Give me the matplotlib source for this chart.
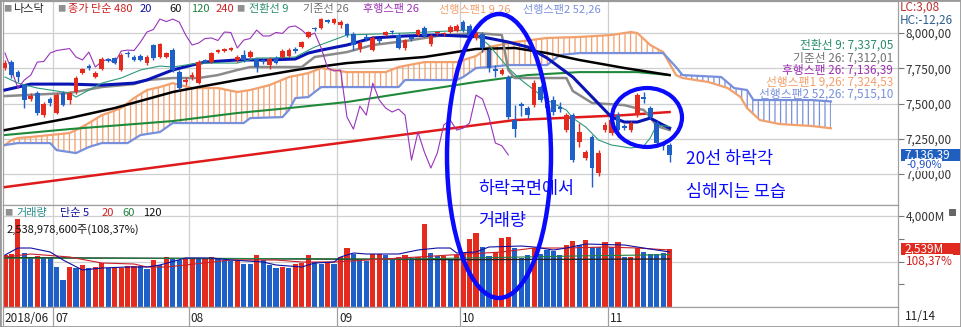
import numpy as np
import matplotlib.pyplot as plt
from matplotlib.patches import Ellipse, Polygon, Rectangle
from matplotlib.ticker import FuncFormatter

plt.rcParams['font.family'] = ['Noto Sans CJK KR', 'DejaVu Sans']
plt.rcParams['hatch.linewidth'] = 0.9

# daily candles, index 0 = first visible day (2018/06), last = 11/14
opens = [7752, 7794, 7723, 7631, 7532, 7575, 7418, 7532, 7433, 7575,
         7525, 7582, 7716, 7766, 7688, 7745, 7812, 7823, 7738, 7855,
         7830, 7837, 7787, 7915, 7830, 7830, 7879, 7723, 7653, 7688,
         7645, 7805, 7794, 7869, 7876, 7883, 7809, 7844, 7830, 7816,
         7805, 7773, 7823, 7830, 7837, 7883, 7901, 7972, 8032, 8035,
         8088, 8071, 8057, 8064, 7993, 7887, 7968, 7879, 7954, 7986,
         8011, 7986, 7894, 7968, 7986, 8035, 7922, 7997, 7990, 8007,
         8014, 8078, 8050, 7965, 7993, 7879, 7745, 7709, 7688, 7383,
         7497, 7468, 7489, 7617, 7539, 7525, 7475, 7312, 7418, 7227,
         7114, 7263, 7007, 7312, 7291, 7418, 7341, 7312, 7418, 7546,
         7468, 7362, 7220, 7206]
closes = [7787, 7702, 7688, 7525, 7553, 7433, 7497, 7504, 7560, 7489,
          7575, 7681, 7745, 7752, 7716, 7816, 7805, 7787, 7844, 7848,
          7809, 7809, 7830, 7823, 7922, 7858, 7738, 7610, 7667, 7702,
          7794, 7798, 7858, 7876, 7883, 7890, 7830, 7809, 7865, 7759,
          7798, 7816, 7787, 7872, 7879, 7876, 7936, 8007, 8025, 8099,
          8081, 8099, 8078, 7986, 7915, 7929, 7961, 7965, 7947, 8007,
          8004, 7894, 7950, 7961, 8021, 7979, 7979, 8004, 7997, 8043,
          8050, 8021, 7979, 8000, 7894, 7752, 7731, 7738, 7404, 7319,
          7482, 7418, 7645, 7525, 7468, 7440, 7461, 7418, 7099, 7298,
          7156, 7043, 7149, 7348, 7383, 7312, 7326, 7362, 7560, 7532,
          7404, 7220, 7201, 7136.39]
highs = [7809, 7809, 7738, 7638, 7575, 7589, 7511, 7546, 7575, 7589,
         7589, 7695, 7752, 7780, 7731, 7830, 7823, 7830, 7858, 7872,
         7844, 7851, 7844, 7922, 7929, 7865, 7894, 7738, 7688, 7723,
         7809, 7816, 7865, 7887, 7894, 7901, 7844, 7879, 7879, 7823,
         7816, 7830, 7837, 7887, 7894, 7901, 7943, 8014, 8043, 8106,
         8099, 8106, 8092, 8071, 8007, 7943, 7993, 7979, 7965, 8014,
         8021, 8000, 7958, 7979, 8028, 8050, 7993, 8014, 8007, 8057,
         8064, 8092, 8064, 8014, 8007, 7894, 7773, 7752, 7702, 7489,
         7511, 7482, 7667, 7631, 7553, 7553, 7511, 7433, 7433, 7362,
         7170, 7277, 7170, 7369, 7397, 7440, 7355, 7376, 7575, 7582,
         7482, 7376, 7234, 7220]
lows = [7738, 7681, 7653, 7468, 7518, 7418, 7404, 7482, 7426, 7482,
        7497, 7568, 7709, 7738, 7681, 7738, 7794, 7780, 7731, 7830,
        7801, 7801, 7773, 7809, 7823, 7823, 7723, 7596, 7631, 7667,
        7638, 7787, 7787, 7858, 7865, 7872, 7794, 7794, 7823, 7723,
        7780, 7745, 7780, 7823, 7830, 7858, 7894, 7965, 8014, 8028,
        8071, 8064, 8035, 7972, 7879, 7865, 7943, 7872, 7929, 7979,
        7993, 7887, 7879, 7943, 7979, 7972, 7908, 7986, 7979, 8000,
        8007, 8007, 7965, 7950, 7865, 7723, 7688, 7702, 7390, 7263,
        7411, 7397, 7475, 7511, 7440, 7418, 7440, 7298, 7085, 7192,
        7099, 6908, 6986, 7298, 7277, 7263, 7312, 7298, 7404, 7504,
        7390, 7206, 7170, 7085]

# volume in millions of shares, R = red bar, B = blue bar
volumes = [2286, 2316, 3868, 2359, 2139, 2256, 2183, 2183, 1744, 1187,
           1773, 1729, 1846, 1729, 1744, 1919, 1729, 1729, 1729, 1817,
           1800, 1800, 1670, 2066, 1846, 2212, 2139, 2066, 2139, 2168,
           2095, 2110, 2212, 2168, 2066, 2022, 2022, 1890, 1890, 2286,
           2066, 1846, 1729, 1773, 1700, 1890, 1919, 2286, 1963, 1890,
           1993, 1890, 2212, 2579, 2316, 2110, 2022, 2316, 2316, 2286,
           2066, 2212, 2286, 2168, 2212, 3648, 2359, 2256, 2256, 2066,
           2286, 2359, 2989, 3238, 2652, 2256, 2400, 3047, 3062, 2579,
           2139, 2300, 2579, 2316, 2506, 2462, 2286, 2725, 2901, 2725,
           2945, 2652, 2652, 2843, 2652, 2843, 2212, 2212, 2608, 2433,
           2316, 2316, 2359, 2539]
vol_colors = ("RRRBBRBBBB" "RBRBRRBRRR" "RBBRBRBBRR" "BRRBBBRBBR" "BBBRBRRRBB"
              "RBRRBBBRRB" "BRRBRRBBRB" "RRRRBBRRRB" "BBRBBBBRRB" "RBBRBRBRRB" "BBBR")

# moving averages / ichimoku lines (day index, value)
ma20_x = [0, 2, 4, 10, 15, 20, 22, 26, 29, 31, 36, 41, 45, 47, 49, 53, 57, 62, 67, 74,
          78, 81, 84, 88, 91, 94, 96, 98, 100, 102, 103]
ma20_y = [7596, 7617, 7638, 7638, 7631, 7645, 7667, 7738, 7773, 7794, 7809, 7809, 7816, 7858,
          7879, 7915, 7965, 7979, 7986, 7972, 7936, 7901, 7823, 7688, 7546, 7404, 7369, 7369,
          7397, 7348, 7326]
ma60_x = [0, 10, 17, 26, 30, 36, 46, 53, 65, 73, 79, 84, 89, 96, 103]
ma60_y = [7312, 7397, 7468, 7582, 7617, 7667, 7745, 7787, 7830, 7887, 7894, 7858, 7809, 7752, 7702]
ma120_x = [0, 10, 26, 36, 44, 53, 62, 73, 81, 89, 98, 103]
ma120_y = [7277, 7319, 7376, 7433, 7468, 7511, 7575, 7653, 7702, 7723, 7723, 7702]
ma240_x = [0, 26, 53, 79, 96, 103]
ma240_y = [6908, 7064, 7227, 7383, 7418, 7440]

tenkan_x = [0, 2, 5, 10, 11, 15, 18, 21, 24, 26, 30, 36, 39, 41, 45, 48, 53, 62, 72, 75,
            78, 80, 84, 87, 88, 90, 92, 94, 97, 99, 100, 101, 103]
tenkan_y = [7688, 7645, 7610, 7575, 7546, 7645, 7681, 7738, 7766, 7759, 7787, 7787, 7823,
            7823, 7830, 7901, 7986, 8000, 8021, 7915, 7752, 7667, 7525, 7454, 7397, 7334,
            7241, 7206, 7185, 7199, 7256, 7348, 7337]
kijun_x = [0, 10, 15, 20, 22, 26, 30, 33, 36, 38, 46, 48, 53, 57, 62, 67, 73, 77, 78, 79,
           87, 88, 91, 96, 99, 100, 101, 103]
kijun_y = [7553, 7575, 7617, 7638, 7667, 7681, 7681, 7702, 7738, 7759, 7759, 7830, 7865, 7915,
           7943, 7979, 8000, 7986, 7738, 7681, 7681, 7589, 7504, 7489, 7454, 7404, 7341, 7312]
span1_x = [0, 1, 2, 4, 7, 10, 11, 13, 15, 16, 18, 20, 22, 24, 26, 29, 33, 36, 38, 41,
           44, 47, 49, 53, 59, 61, 65, 70, 73, 75, 79, 84, 89, 94, 97, 98, 100, 102, 104, 105,
           109, 112, 114, 115, 117, 120, 125, 128]
span1_y = [7206, 7241, 7256, 7263, 7277, 7291, 7312, 7362, 7418, 7433, 7468, 7539, 7596, 7617,
           7645, 7610, 7610, 7582, 7596, 7631, 7688, 7716, 7752, 7723, 7723, 7759, 7794, 7794,
           7837, 7901, 7936, 7965, 7972, 7986, 8007, 8000, 7915, 7865, 7702, 7681, 7653, 7610,
           7546, 7468, 7383, 7355, 7341, 7325]
span2_x = [0, 2, 7, 8, 11, 13, 15, 19, 21, 24, 26, 37, 38, 43, 44, 45, 47, 49, 53, 61,
           62, 70, 71, 73, 75, 78, 84, 86, 89, 102, 104, 105, 111, 113, 115, 116, 125, 128]
span2_y = [7206, 7220, 7220, 7170, 7149, 7192, 7220, 7220, 7277, 7298, 7362, 7362, 7397, 7404,
           7454, 7539, 7546, 7617, 7617, 7617, 7667, 7667, 7688, 7752, 7759, 7773, 7773, 7844,
           7858, 7858, 7759, 7702, 7688, 7610, 7596, 7525, 7525, 7515]

vma5_x = [0, 2, 4, 7, 9, 12, 15, 19, 22, 24, 28, 32, 35, 40, 42, 46, 48, 51, 52, 54,
          56, 61, 64, 67, 69, 70, 73, 75, 80, 82, 85, 87, 90, 96, 99, 103]
vma5_y = [2286, 2593, 2593, 2418, 2066, 1626, 1714, 1758, 1758, 1846, 2154, 2154, 2066, 1978,
          1846, 1758, 1934, 1978, 2198, 2374, 2330, 2330, 2505, 2593, 2593, 2374, 2418, 2637,
          2681, 2637, 2505, 2593, 2769, 2725, 2593, 2418]
vma20_x = [0, 4, 10, 15, 20, 22, 25, 28, 35, 42, 46, 51, 64, 69, 77, 82, 87, 93, 98, 103]
vma20_y = [2198, 2330, 2198, 1934, 1890, 1758, 1758, 1846, 2066, 2066, 1978, 1978, 2198, 2286,
           2418, 2593, 2593, 2637, 2593, 2505]
vma60_x = [0, 20, 40, 60, 75, 90, 103]
vma60_y = [2150, 2140, 2130, 2100, 2170, 2250, 2300]
vma120_x = [0, 40, 70, 103]
vma120_y = [2170, 2120, 2080, 2110]

month_bounds = [7.5, 28.5, 51.5, 70.5, 93.5]
month_labels = ['07', '08', '09', '10', '11']
price_ticks = [7000, 7250, 7500, 7750, 8000]

RED = '#e52b1e'
BLUE = '#1e5fc8'
PEACH = '#f2a06c'
SLATE = '#7890dc'
NAVY = '#0a14b4'
GRID = '#cfcfcf'
MARK = '#0a0aff'

W, H = 961, 327


def fx(px):
    return px / W


def fy(py):
    return 1 - py / H


fig = plt.figure(figsize=(W / 100, H / 100), dpi=100)
ax = fig.add_axes([fx(3), fy(205), fx(898) - fx(3), fy(1) - fy(205)])
axv = fig.add_axes([fx(3), fy(307), fx(898) - fx(3), fy(205) - fy(307)])
axd = fig.add_axes([fx(3), 0, fx(898) - fx(3), fy(307)])
XLIM = (-0.31, 138.4)

for a in (ax, axv, axd):
    a.set_xlim(*XLIM)
    a.set_xticks([])
    for s in a.spines.values():
        s.set_color('#a0a0a0')
        s.set_linewidth(0.9)
    for b in month_bounds:
        a.axvline(b, color=GRID if a is not axd else '#a0a0a0', lw=0.9, zorder=0)

# ---------------- price panel ----------------
ax.set_ylim(6781, 8227)
for t in price_ticks:
    ax.axhline(t, color=GRID, lw=0.9, zorder=0)
ax.yaxis.tick_right()
ax.set_yticks(price_ticks)
ax.yaxis.set_major_formatter(FuncFormatter(lambda v, p: f"{v:,.2f}".replace('.', ',')))
ax.tick_params(axis='y', length=4, width=0.8, color='#777', labelsize=8.5,
               labelcolor='#333', pad=1.5)

# ichimoku cloud hatch
s1x, s1y = np.array(span1_x), np.array(span1_y)
s2x, s2y = np.array(span2_x), np.array(span2_y)


def cloud(lo, hi, color):
    m1 = (s1x >= lo) & (s1x <= hi)
    m2 = (s2x >= lo) & (s2x <= hi)
    pts = list(zip(s1x[m1], s1y[m1])) + list(zip(s2x[m2], s2y[m2]))[::-1]
    ax.add_patch(Polygon(pts, closed=True, fill=False, hatch='|||',
                         edgecolor=color, linewidth=0, zorder=1))


cloud(0, 102, PEACH)
cloud(104, 128, SLATE)

ax.plot(span1_x, span1_y, color=PEACH, lw=1.6, zorder=2)
ax.plot(span2_x, span2_y, color=SLATE, lw=1.6, zorder=2)
ax.plot(ma240_x, ma240_y, color='#e01a1a', lw=1.8, zorder=3)
ax.plot(ma120_x, ma120_y, color='#1f8a3a', lw=1.5, zorder=3)
ax.plot(ma60_x, ma60_y, color='black', lw=1.8, zorder=3)
ax.plot(kijun_x, kijun_y, color='#8a8a8a', lw=1.8, zorder=3)
ax.plot(ma20_x, ma20_y, color=NAVY, lw=2.2, zorder=3)
ax.plot(tenkan_x, tenkan_y, color='#2e9a7c', lw=0.8, zorder=3)

o, c = np.array(opens), np.array(closes)
h, l = np.array(highs), np.array(lows)
idx = np.arange(len(c))
ax.plot(idx[:-25], c[25:], color='#9933bb', lw=0.8, zorder=3)

ccol = np.where(c >= o, RED, BLUE)
ax.vlines(idx, l, h, colors=ccol, lw=1.0, zorder=5)
ax.bar(idx, np.maximum(np.abs(c - o), 8), bottom=np.minimum(o, c), width=0.72,
       color=ccol, zorder=6)

# ---------------- volume panel ----------------
axv.set_ylim(0, 4484)
for t in (2000, 4000):
    axv.axhline(t, color=GRID, lw=0.9, zorder=0)
axv.yaxis.tick_right()
axv.set_yticks([1000, 2000, 3000, 4000])
axv.set_yticklabels(['', '', '', '4,000M'])
axv.tick_params(axis='y', length=4, width=0.8, color='#777', labelsize=8.5,
                labelcolor='#333', pad=1.5)
axv.bar(idx, volumes, width=0.8, color=[RED if k == 'R' else BLUE for k in vol_colors], zorder=2)
axv.plot(vma120_x, vma120_y, color='#222222', lw=1.0, zorder=3)
axv.plot(vma60_x, vma60_y, color='#208040', lw=0.8, zorder=3)
axv.plot(vma20_x, vma20_y, color='#c8202a', lw=0.8, zorder=3)
axv.plot(vma5_x, vma5_y, color='#1010a0', lw=0.8, zorder=3)

# ---------------- date strip ----------------
axd.set_ylim(0, 1)
axd.set_yticks([])
axd.text(-0.1, 0.45, '2018/06', fontsize=8.5, va='center', color='#222')
for b, lab in zip(month_bounds, month_labels):
    axd.text(b + 0.3, 0.45, lab, fontsize=8.5, va='center', color='#222')
fig.text(fx(905), fy(317), '11/14', fontsize=8.5, va='center', color='#222')


# ---------------- legends / labels ----------------
def ftxt(x, y, s, color, size=8, **kw):
    fig.text(fx(x), fy(y), s, color=color, fontsize=size, va='center', **kw)


top_items = [(3, '■', '#909090'), (13, '나스닥', '#222'), (57, '■', '#909090'),
             (68, '종가 단순 480', '#d02020'), (140, '20', '#1010a0'), (169, '60', '#111'),
             (191, '120', '#208040'), (216, '240', '#d02020'), (236, '■', '#909090'),
             (249, '전환선 9', '#2a8c6e'), (303, '기준선 26', '#707070'),
             (363, '후행스팬 26', '#9b30b0'), (439, '선행스팬1 9,26', PEACH),
             (523, '선행스팬2 52,26', SLATE)]
for x, s, col in top_items:
    ftxt(x, 9, s, col, size=6 if s == '■' else 8)

vol_items = [(4, '■', '#909090'), (16, '거래량', '#2a8c8c'), (60, '단순 5', '#1010a0'),
             (102, '20', '#d02020'), (122, '60', '#208040'), (143, '120', '#111')]
for x, s, col in vol_items:
    ftxt(x, 213, s, col, size=6 if s == '■' else 8)
ftxt(7, 230, '2,538,978,600주(108,37%)', '#111')

right_items = [(45, '전환선 9: 7,337,05', '#2a8c6e'), (58, '기준선 26: 7,312,01', '#707070'),
               (70, '후행스팬 26: 7,136,39', '#9b30b0'), (82, '선행스팬1 9,26: 7,324,53', PEACH),
               (94, '선행스팬2 52,26: 7,515,10', SLATE)]
for y, s, col in right_items:
    ftxt(893, y, s, col, size=8.5, ha='right')

ftxt(900, 7, 'LC:3,08', '#c03030', size=8.5)
ftxt(900, 20, 'HC:-12,26', '#2f5f8f', size=8.5)

fig.add_artist(Rectangle((fx(901), fy(161)), fx(960) - fx(901), fy(149) - fy(161),
                         transform=fig.transFigure, fc='#1f5fbf', ec='none'))
ftxt(904, 155, '7,136,39', 'white', size=8.5)
fig.text(fx(906), fy(165), '-0,90%', color='#2050c0', fontsize=8, va='center',
         bbox=dict(boxstyle='square,pad=0.05', fc='white', ec='none'))
fig.add_artist(Rectangle((fx(901), fy(255)), fx(960) - fx(901), fy(243) - fy(255),
                         transform=fig.transFigure, fc='#e02a20', ec='none'))
ftxt(904, 249, '2,539M', 'white', size=8.5)
fig.text(fx(906), fy(261), '108,37%', color='#d02020', fontsize=8.5, va='center',
         bbox=dict(boxstyle='square,pad=0.05', fc='white', ec='none'))
fig.add_artist(Rectangle((fx(949), fy(215)), fx(6), fx(6) * W / H,
                         transform=fig.transFigure, fc='#666', ec='#444', lw=0.5))

# hand-drawn style marks
fig.add_artist(Ellipse((fx(499), fy(156)), fx(104), 284 / H, transform=fig.transFigure,
                       fill=False, ec=MARK, lw=3.2, zorder=10))
fig.add_artist(Ellipse((fx(647), fy(117.5)), fx(70), 59 / H, transform=fig.transFigure,
                       fill=False, ec=MARK, lw=3.0, zorder=10))
ftxt(478, 189, '하락국면에서', MARK, size=12.5, zorder=11)
ftxt(478, 221, '거래량', MARK, size=12.5, zorder=11)
ftxt(686, 159, '20선 하락각', MARK, size=12.5, zorder=11)
ftxt(686, 192, '심해지는 모습', MARK, size=12.5, zorder=11)

fig.add_artist(Rectangle((0, 0), 1, 1, transform=fig.transFigure, fill=False,
                         ec='#9a9a9a', lw=2.0))

fig.savefig('out.png', dpi=100)
